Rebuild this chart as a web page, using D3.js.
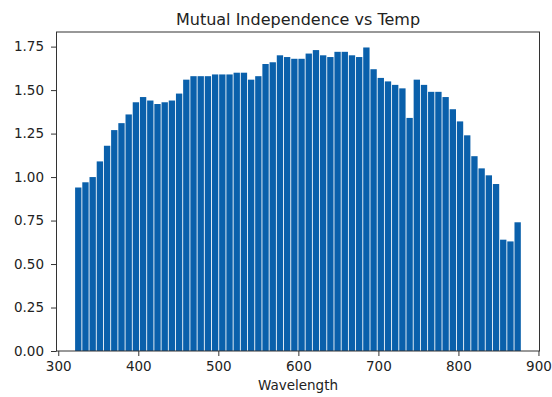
<!DOCTYPE html>
<html>
<head>
<meta charset="utf-8">
<script src="https://cdn.jsdelivr.net/npm/d3@7"></script>
<style>
  body { margin: 0; background: #fff; }
  svg { display: block; font-family: "DejaVu Sans", sans-serif; }
</style>
</head>
<body>
<div id="chart"></div>
<script>
// wavelengths (nm) of the bars and their values
var wavelengths = [325, 334, 343, 352, 361, 370, 379, 388, 397, 406,
                   415, 424, 433, 442, 451, 460, 469, 478, 487, 496,
                   505, 514, 523, 532, 541, 550, 559, 568, 577, 586,
                   595, 604, 613, 622, 631, 640, 649, 658, 667, 676,
                   685, 694, 703, 712, 721, 730, 739, 748, 757, 766,
                   775, 784, 793, 802, 811, 820, 829, 838, 847, 856,
                   865, 874];
var values = [0.94, 0.97, 1.00, 1.09, 1.18, 1.27, 1.31, 1.36, 1.43, 1.46,
              1.44, 1.42, 1.43, 1.44, 1.48, 1.56, 1.58, 1.58, 1.58, 1.59,
              1.59, 1.59, 1.60, 1.60, 1.56, 1.58, 1.65, 1.66, 1.70, 1.69,
              1.68, 1.68, 1.71, 1.73, 1.70, 1.69, 1.72, 1.72, 1.70, 1.69,
              1.745, 1.62, 1.57, 1.55, 1.53, 1.51, 1.34, 1.56, 1.53, 1.49,
              1.49, 1.46, 1.39, 1.32, 1.24, 1.12, 1.05, 1.01, 0.96, 0.64,
              0.63, 0.74];
var xTicks = [300, 400, 500, 600, 700, 800, 900];
var yTicks = [0, 0.25, 0.5, 0.75, 1.0, 1.25, 1.5, 1.75];

var width = 552, height = 397;
var margin = { left: 56.5, right: 539.5, top: 32, bottom: 351 };
var step = 9, barW = step * 0.88;

var svg = d3.select("#chart")
    .append("svg")
    .attr("width", width)
    .attr("height", height);

var x = d3.scaleLinear().domain([297.8, 901.3]).range([margin.left, margin.right]);
var y = d3.scaleLinear().domain([0, 1.834]).range([margin.bottom, margin.top]);

var data = wavelengths.map(function (w, i) { return { w: w, v: values[i] }; });

// bars
svg.append("g")
    .selectAll("rect")
    .data(data)
    .enter()
    .append("rect")
    .attr("x", function (d) { return x(d.w - barW / 2); })
    .attr("width", function (d) { return x(d.w + barW / 2) - x(d.w - barW / 2); })
    .attr("y", function (d) { return y(d.v); })
    .attr("height", function (d) { return y(0) - y(d.v); })
    .attr("fill", "#0a60ab");

// axes
var xAxis = svg.append("g")
    .attr("transform", "translate(0," + margin.bottom + ")")
    .call(d3.axisBottom(x).tickValues(xTicks).tickSize(5).tickPadding(5.5).tickFormat(d3.format("d")));
var yAxis = svg.append("g")
    .attr("transform", "translate(" + margin.left + ",0)")
    .call(d3.axisLeft(y).tickValues(yTicks).tickSize(5.5).tickPadding(7).tickFormat(d3.format(".2f")));

[xAxis, yAxis].forEach(function (g) {
    g.select(".domain").remove();
    g.selectAll("line").attr("stroke", "#333");
    g.selectAll("text")
        .attr("fill", "#222")
        .style("font-size", "13.5px")
        .style("font-family", "'DejaVu Sans', sans-serif");
});

// frame
svg.append("rect")
    .attr("x", margin.left)
    .attr("y", margin.top)
    .attr("width", margin.right - margin.left)
    .attr("height", margin.bottom - margin.top)
    .attr("fill", "none")
    .attr("stroke", "#333")
    .attr("stroke-width", 1);

// title and label
svg.append("text")
    .attr("x", (margin.left + margin.right) / 2)
    .attr("y", 25)
    .attr("text-anchor", "middle")
    .attr("fill", "#222")
    .style("font-size", "16px")
    .text("Mutual Independence vs Temp");

svg.append("text")
    .attr("x", (margin.left + margin.right) / 2)
    .attr("y", 389.5)
    .attr("text-anchor", "middle")
    .attr("fill", "#222")
    .style("font-size", "13.5px")
    .text("Wavelength");
</script>
</body>
</html>
